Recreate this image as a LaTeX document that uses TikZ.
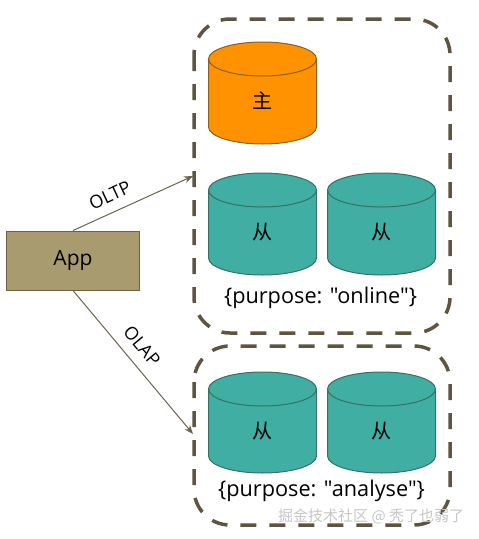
\documentclass[tikz,border=0pt]{standalone}
\usepackage{fontspec}
\newfontfamily\uifont{Open Sans}
\newfontfamily\cjk{Noto Sans CJK SC}
\usetikzlibrary{arrows.meta}
\definecolor{dashc}{HTML}{5E5540}
\definecolor{tealc}{HTML}{40AEA2}
\definecolor{tealb}{HTML}{3A6F62}
\definecolor{orangec}{HTML}{FF9200}
\definecolor{orangeb}{HTML}{8A5F20}
\definecolor{appc}{HTML}{A99B70}
\definecolor{appb}{HTML}{6E6240}
\definecolor{arrowc}{HTML}{6B6350}
\tikzset{
  x=1pt,y=-1pt,
  groupbox/.style={draw=dashc,line width=3.5pt,rounded corners=36pt,dash pattern=on 16pt off 13pt,fill=none},
  appbox/.style={draw=appb,line width=1pt,fill=appc,minimum width=133pt,minimum height=59pt,inner sep=0pt,font=\uifont\fontsize{21}{24}\selectfont},
  link/.style={draw=arrowc,line width=1pt,-{Stealth[length=9pt,width=7pt]}},
  linktext/.style={font=\uifont\fontsize{18}{20}\selectfont,inner sep=0pt},
  cjklabel/.style={font=\cjk\fontsize{20}{22}\selectfont,inner sep=0pt},
  tagtext/.style={font=\uifont\fontsize{21.7}{25}\selectfont,inner sep=0pt},
  marktext/.style={font=\cjk\fontsize{15}{17}\selectfont,text=white!55!gray,inner sep=0pt},
}
% #1 centre x, #2 top-ellipse centre y, #3 bottom-ellipse centre y, #4 fill, #5 line
\newcommand{\dbcyl}[5]{%
  \path[fill=#4,draw=#5,line width=1pt]
    (#1-54,#2) arc[start angle=180,end angle=0,x radius=54pt,y radius=17pt]
    -- (#1+54,#3) arc[start angle=0,end angle=-180,x radius=54pt,y radius=17pt] -- cycle;
  \draw[#5,line width=1pt] (#1-54,#2) arc[start angle=180,end angle=360,x radius=54pt,y radius=17pt];
}
\begin{document}
\begin{tikzpicture}
\useasboundingbox (0,0) rectangle (479,539);
\draw[groupbox] (194,19) rectangle (450,333);
\draw[groupbox] (194,346) rectangle (450,525);

\dbcyl{262.5}{59}{127}{orangec}{orangeb}
\dbcyl{262.5}{190}{258}{tealc}{tealb}
\dbcyl{381.5}{190}{258}{tealc}{tealb}
\dbcyl{262.5}{389}{456}{tealc}{tealb}
\dbcyl{381.5}{389}{456}{tealc}{tealb}

\node[cjklabel] (m) at (262,101) {主};
\node[cjklabel] (s1) at (262,232) {从};
\node[cjklabel] (s2) at (381,232) {从};
\node[cjklabel] (s3) at (262,431) {从};
\node[cjklabel] (s4) at (381,431) {从};
\node[tagtext] (t1) at (320.5,298) {\{purpose: "online"\}};
\node[tagtext] (t2) at (321.5,491) {\{purpose: "analyse"\}};

\node[appbox] (app) at (73,260.5) {App};
\coordinate (oltp) at (193,176);
\coordinate (olap) at (193,434);
\draw[link] (app.north) -- (oltp);
\draw[link] (app.south) -- (olap);
\node[linktext,rotate=25] (l1) at (110,195) {OLTP};
\node[linktext,rotate=-50] (l2) at (142,346) {OLAP};
\node[marktext,anchor=west] (wm) at (278,516) {掘金技术社区 @ 秃了也弱了};
\end{tikzpicture}
\end{document}
